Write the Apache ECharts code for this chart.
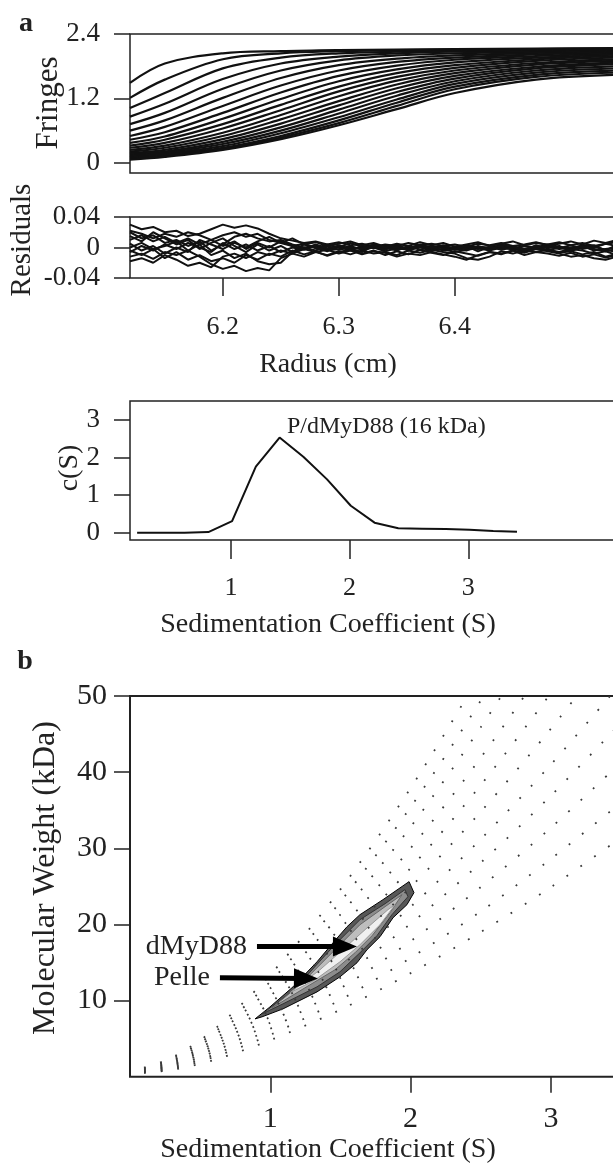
<!DOCTYPE html>
<html>
<head>
<meta charset="utf-8">
<script src="https://cdn.jsdelivr.net/npm/echarts@6.0.0/dist/echarts.min.js"></script>
<style>
  html, body { margin: 0; padding: 0; background: #fff; }
  #chart { width: 613px; height: 1168px; }
</style>
</head>
<body>
<div id="chart"></div>
<script>
// ---- panel a, top: fringe scans (radius in cm, fringes) ----
const fringeRadius = [6.12, 6.15, 6.2, 6.25, 6.3, 6.35, 6.4, 6.47, 6.54]
const fringeScans = [
  [1.49, 1.85, 2.04, 2.08, 2.10, 2.11, 2.12, 2.13, 2.14],
  [1.21, 1.55, 1.93, 2.04, 2.08, 2.10, 2.11, 2.12, 2.13],
  [1.02, 1.30, 1.76, 1.96, 2.04, 2.07, 2.09, 2.11, 2.12],
  [0.86, 1.10, 1.56, 1.85, 1.98, 2.04, 2.07, 2.09, 2.11],
  [0.72, 0.93, 1.38, 1.72, 1.91, 2.00, 2.04, 2.07, 2.10],
  [0.60, 0.79, 1.21, 1.58, 1.82, 1.94, 2.00, 2.05, 2.08],
  [0.50, 0.67, 1.06, 1.44, 1.72, 1.88, 1.96, 2.02, 2.06],
  [0.43, 0.57, 0.93, 1.31, 1.62, 1.81, 1.92, 1.99, 2.04],
  [0.37, 0.49, 0.82, 1.19, 1.52, 1.74, 1.87, 1.96, 2.02],
  [0.32, 0.43, 0.72, 1.08, 1.42, 1.67, 1.82, 1.93, 1.99],
  [0.28, 0.37, 0.64, 0.98, 1.33, 1.60, 1.77, 1.90, 1.96],
  [0.24, 0.32, 0.56, 0.89, 1.24, 1.53, 1.72, 1.86, 1.93],
  [0.21, 0.28, 0.50, 0.81, 1.15, 1.46, 1.67, 1.83, 1.90],
  [0.18, 0.24, 0.44, 0.73, 1.07, 1.39, 1.62, 1.79, 1.87],
  [0.16, 0.21, 0.39, 0.66, 0.99, 1.32, 1.57, 1.76, 1.84],
  [0.14, 0.19, 0.35, 0.60, 0.92, 1.25, 1.52, 1.72, 1.80],
  [0.12, 0.17, 0.31, 0.55, 0.85, 1.18, 1.47, 1.68, 1.76],
  [0.10, 0.15, 0.28, 0.50, 0.79, 1.12, 1.42, 1.64, 1.72],
  [0.08, 0.13, 0.26, 0.47, 0.74, 1.06, 1.37, 1.60, 1.68],
  [0.06, 0.11, 0.24, 0.44, 0.70, 1.00, 1.30, 1.55, 1.64]
]

// ---- panel a, residuals (values in 1/1000 fringe) ----
const residRadius = [6.12, 6.13, 6.14, 6.15, 6.16, 6.17, 6.18, 6.19, 6.20, 6.21,
  6.22, 6.23, 6.24, 6.25, 6.26, 6.27, 6.28, 6.29, 6.30, 6.31,
  6.32, 6.33, 6.34, 6.35, 6.36, 6.37, 6.38, 6.39, 6.40, 6.41,
  6.42, 6.43, 6.44, 6.45, 6.46, 6.47, 6.48, 6.49, 6.50, 6.51,
  6.52, 6.53, 6.54]
const residScans = [
  [30, 24, 27, 20, 22, 15, 18, 24, 30, 26, 29, 25, 18, 12, 9, 6, 8, 4, 7, 3, 5, 1, 4, 2, 6, 3, 5, 2, 4, 1, 5, 3, 6, 2, 4, 7, 3, 5, 8, 4, 9, 6, 10],
  [-12, -8, -15, -6, -10, -4, -12, -22, -28, -24, -31, -27, -30, -14, -8, -12, -6, -10, -5, -9, -4, -8, -6, -10, -4, -7, -3, -6, -8, -14, -16, -12, -5, -8, -4, -6, -3, -7, -5, -9, -6, -12, -8],
  [-18, -14, -20, -10, -16, -24, -20, -26, -12, -8, -14, -6, -10, -4, -8, -2, -6, -3, -8, -4, -9, -5, -7, -12, -8, -10, -6, -9, -12, -16, -10, -6, -8, -4, -7, -2, -5, -8, -12, -10, -14, -16, -12],
  [10, 16, 8, 14, 6, 12, 4, 10, 2, 8, -2, 6, 0, 8, 2, 5, -1, 4, 0, 6, 1, 3, -2, 2, -1, 4, 0, 2, -3, 1, -2, 0, 3, -1, 2, 0, 4, 1, -2, 3, 0, 5, 2],
  [20, 12, 16, 6, 10, 2, 8, -4, 4, 14, 18, 12, 8, 10, 4, 0, 2, -4, -2, 2, -3, 0, -5, -1, -3, 1, -4, -2, -6, -3, -1, -4, 0, -2, -5, -1, -3, -6, -2, -4, -8, -5, -10],
  [-6, 2, -4, 4, -2, 6, 0, -6, 6, -2, 4, -4, 2, -6, 0, -3, 3, -2, 1, -4, 2, -1, 3, -3, 0, 2, -2, 1, -1, 3, 0, -2, 1, -3, 2, -1, 1, -2, 0, 2, -4, -2, 0],
  [5, -4, 2, -8, 0, -6, 10, 4, -2, 6, 0, 8, 14, 6, 2, -2, 4, -1, 2, -2, 0, 3, -1, 1, -2, 0, 2, -1, 0, -2, 1, 0, -1, 2, -3, 0, 2, -1, 3, -2, 1, -3, -6],
  [15, 8, 20, 12, 4, 10, -2, 6, 12, 2, -6, 4, -4, 2, -6, 4, 0, -5, 3, -2, -6, 2, -3, 4, -4, 1, -5, 3, -2, -4, 2, -3, 4, 0, -4, 3, -1, 2, -5, 1, 3, -4, 4],
  [-4, -10, -2, -14, -6, -16, -10, -18, -14, -20, -10, -16, -8, -12, -4, -9, -5, -11, -6, -3, -8, -4, -10, -5, -9, -3, -7, -10, -5, -8, -11, -6, -9, -4, -10, -6, -8, -11, -7, -12, -9, -13, -10],
  [22, 18, 12, 18, 14, 20, 16, 10, 16, 20, 14, 18, 10, 6, 12, 4, 7, 2, 5, 8, 3, 6, 1, 5, 2, 7, 3, 6, 1, 4, 7, 2, 5, 8, 3, 6, 4, 7, 3, 6, 2, 5, 7],
  [0, 6, -2, 2, 8, -4, 4, -10, -4, -14, -8, -18, -22, -20, -6, 0, -4, 2, -3, 0, -2, 4, 0, -4, 2, -3, 1, -4, -2, 2, -5, 1, -3, 0, -2, 2, -4, 0, -3, 1, -2, -5, -2]
]

// ---- panel a, c(s) distribution ----
const sedCoef = [0.21, 0.41, 0.61, 0.81, 1.01, 1.21, 1.41, 1.61, 1.81, 2.01, 2.21, 2.41, 2.61, 2.81, 3.01, 3.21, 3.41]
const cS = [0, 0, 0, 0.02, 0.31, 1.76, 2.53, 2.02, 1.42, 0.72, 0.27, 0.12, 0.11, 0.10, 0.08, 0.05, 0.03]

// ---- panel b, grid of (s, MW) points, one row per frictional ratio ----
const gridS = [0.1, 0.3, 0.6, 1.0, 1.5, 2.0, 2.5, 3.0, 3.5]
const gridRows = [
  [0.5, 0.9, 2.2, 4.8, 8.8, 13.6, 19.0, 24.9, 31.4],
  [0.55, 1.05, 2.6, 5.5, 10.1, 15.6, 21.7, 28.6, 36.0],
  [0.6, 1.2, 2.9, 6.3, 11.6, 17.8, 24.9, 32.7, 41.3],
  [0.7, 1.35, 3.3, 7.1, 13.0, 20.1, 28.1, 36.9, 46.5],
  [0.75, 1.5, 3.7, 7.9, 14.5, 22.3, 31.2, 41.0, 51.7],
  [0.8, 1.65, 4.1, 8.8, 16.2, 24.9, 34.8, 45.7, 57.6],
  [0.9, 1.8, 4.5, 9.7, 17.8, 27.4, 38.3, 50.4, 63.5],
  [0.95, 1.95, 4.9, 10.6, 19.5, 30.0, 41.9, 55.1, 69.4],
  [1.05, 2.1, 5.4, 11.6, 21.3, 32.8, 45.9, 60.3, 76.0],
  [1.1, 2.3, 5.8, 12.5, 23.0, 35.4, 49.4, 65.0, 81.9],
  [1.2, 2.5, 6.2, 13.4, 24.6, 37.9, 53.0, 69.6, 87.7]
]

// contour levels of c(s, MW), outer to inner, as [s, MW] outlines
const contourRings = [
  [[0.891, 7.59], [0.998, 9.17], [1.162, 11.80], [1.333, 15.09], [1.447, 17.59], [1.547, 19.70], [1.639, 21.28], [1.803, 23.25], [1.989, 25.62],
   [2.024, 24.17], [1.974, 22.59], [1.875, 20.88], [1.782, 18.38], [1.689, 16.67], [1.618, 14.96], [1.497, 13.12], [1.333, 11.14], [1.091, 8.91], [0.941, 7.86]],
  [[0.941, 8.25], [1.162, 11.28], [1.447, 17.07], [1.639, 20.62], [1.818, 22.72], [1.960, 24.57],
   [1.981, 23.64], [1.867, 21.28], [1.760, 18.51], [1.654, 16.54], [1.497, 13.78], [1.333, 11.80], [1.091, 9.57]],
  [[1.012, 9.04], [1.212, 12.07], [1.461, 16.67], [1.639, 19.96], [1.818, 22.33], [1.939, 23.91],
   [1.853, 21.54], [1.725, 18.51], [1.604, 16.28], [1.461, 14.04], [1.247, 11.67]],
  [[1.140, 11.01], [1.354, 14.04], [1.532, 16.93], [1.675, 19.30], [1.839, 21.94], [1.889, 22.59],
   [1.782, 19.96], [1.639, 17.33], [1.497, 15.09], [1.319, 12.72]]
]
const ringFill = ['#575757', '#8c8c8c', '#bdbdbd', '#f0f0f0']
const ringStroke = ['#000', '#333', '#666', '#999']

const arrowNames = ['dMyD88', 'Pelle']
const arrowFrom = [[0.905, 17.07], [0.641, 13.0]]
const arrowTo = [[1.532, 17.1], [1.254, 12.9]]

const serif = '"Liberation Serif", "Times New Roman", serif'
const ink = '#222'

const chart = echarts.init(document.getElementById('chart'))

function valueAxis(gridIndex, min, max, ticks, tickLen, margin, fontSize, showLabels) {
  return {
    type: 'value',
    gridIndex: gridIndex,
    min: min,
    max: max,
    splitLine: { show: false },
    axisLine: { show: false, onZero: false },
    axisTick: {
      show: ticks.length > 0,
      length: tickLen,
      customValues: ticks,
      lineStyle: { color: ink, width: 1.5 }
    },
    axisLabel: {
      show: showLabels,
      customValues: ticks,
      margin: margin,
      fontSize: fontSize,
      fontFamily: serif,
      color: ink
    }
  }
}

const boxStyle = { show: true, borderColor: ink, borderWidth: 1.5, backgroundColor: 'transparent', outerBoundsMode: 'none', containLabel: false }

const series = []

fringeScans.forEach(function (scan) {
  series.push({
    type: 'line', xAxisIndex: 0, yAxisIndex: 0,
    data: fringeRadius.map(function (r, j) { return [r, scan[j]] }),
    smooth: 0.35, symbol: 'none', silent: true,
    lineStyle: { color: '#111', width: 2.2 }
  })
})

residScans.forEach(function (scan) {
  series.push({
    type: 'line', xAxisIndex: 1, yAxisIndex: 1,
    data: residRadius.map(function (r, j) { return [r, scan[j] / 1000] }),
    symbol: 'none', silent: true,
    lineStyle: { color: '#111', width: 2 }
  })
})

series.push({
  type: 'line', xAxisIndex: 2, yAxisIndex: 2,
  data: sedCoef.map(function (s, j) { return [s, cS[j]] }),
  symbol: 'none', silent: true,
  lineStyle: { color: '#111', width: 2 }
})

gridRows.forEach(function (row) {
  series.push({
    type: 'line', xAxisIndex: 3, yAxisIndex: 3,
    data: gridS.map(function (s, j) { return [s, row[j]] }),
    smooth: 0.3, symbol: 'none', silent: true,
    lineStyle: { color: '#3a3a3a', width: 1.8, type: [1.8, 15] }
  })
})

series.push({
  type: 'custom', xAxisIndex: 3, yAxisIndex: 3, silent: true,
  data: contourRings.map(function (ring, i) { return [i, 0] }),
  renderItem: function (params, api) {
    const i = params.dataIndex
    const pts = contourRings[i].map(function (p) { return api.coord(p) })
    return {
      type: 'polygon',
      shape: { points: pts },
      style: { fill: ringFill[i], stroke: ringStroke[i], lineWidth: 1 }
    }
  }
})

// arrows with their labels
series.push({
  type: 'line', xAxisIndex: 3, yAxisIndex: 3, data: [], silent: true,
  markLine: {
    silent: true,
    symbol: ['none', 'triangle'],
    symbolSize: [20, 24],
    animation: false,
    lineStyle: { color: '#000', width: 5, type: 'solid' },
    label: {
      show: true, position: 'start', distance: 10,
      fontSize: 28, fontFamily: serif, color: ink,
      formatter: function (p) { return p.name }
    },
    data: arrowNames.map(function (name, i) {
      return [{ name: name, coord: arrowFrom[i] }, { coord: arrowTo[i] }]
    })
  }
})

function txt(text, x, y, size, rot, bold) {
  return {
    type: 'text', x: x, y: y, rotation: rot ? Math.PI / 2 : 0, silent: true,
    style: {
      text: text, fill: ink,
      font: (bold ? 'bold ' : '') + size + 'px ' + serif,
      textAlign: 'center', textVerticalAlign: 'middle',
      align: 'center', verticalAlign: 'middle'
    }
  }
}

chart.setOption({
  animation: false,
  backgroundColor: '#fff',
  grid: [
    Object.assign({ left: 130, top: 34, width: 493, height: 139 }, boxStyle),
    Object.assign({ left: 130, top: 217, width: 493, height: 61 }, boxStyle),
    Object.assign({ left: 130, top: 401, width: 493, height: 139 }, boxStyle),
    Object.assign({ left: 130, top: 696, width: 493, height: 380.7 }, boxStyle, { borderWidth: 2 })
  ],
  xAxis: [
    valueAxis(0, 6.12, 6.545, [], 0, 0, 26, false),
    valueAxis(1, 6.12, 6.545, [6.2, 6.3, 6.4], 18, 36, 26, true),
    valueAxis(2, 0.15, 4.303, [1, 2, 3], 19, 35, 26, true),
    valueAxis(3, 0, 3.514, [1, 2, 3], 16, 27, 30, true)
  ],
  yAxis: [
    valueAxis(0, -0.19, 2.4, [0, 1.2, 2.4], 16, 30, 27, true),
    valueAxis(1, -0.04, 0.04, [-0.04, 0, 0.04], 16, 30, 27, true),
    valueAxis(2, -0.19, 3.5, [0, 1, 2, 3], 16, 30, 27, true),
    valueAxis(3, 0, 50, [10, 20, 30, 40, 50], 16, 23, 30, true)
  ],
  series: series,
  graphic: [
    txt('a', 26, 24, 28, false, true),
    txt('Fringes', 49, 103, 31, true),
    txt('Residuals', 22, 240, 29, true),
    txt('Radius (cm)', 328, 365, 28),
    txt('c(S)', 70, 468, 28, true),
    { type: 'text', x: 287, y: 427, silent: true,
      style: { text: 'P/dMyD88 (16 kDa)', fill: ink, font: '24px ' + serif,
        textAlign: 'left', textVerticalAlign: 'middle', align: 'left', verticalAlign: 'middle' } },
    txt('Sedimentation Coefficient (S)', 328, 625, 28),
    txt('b', 25, 662, 28, false, true),
    txt('Molecular Weight (kDa)', 46, 878, 32, true),
    txt('Sedimentation Coefficient (S)', 328, 1150, 28)
  ]
})
</script>
</body>
</html>
